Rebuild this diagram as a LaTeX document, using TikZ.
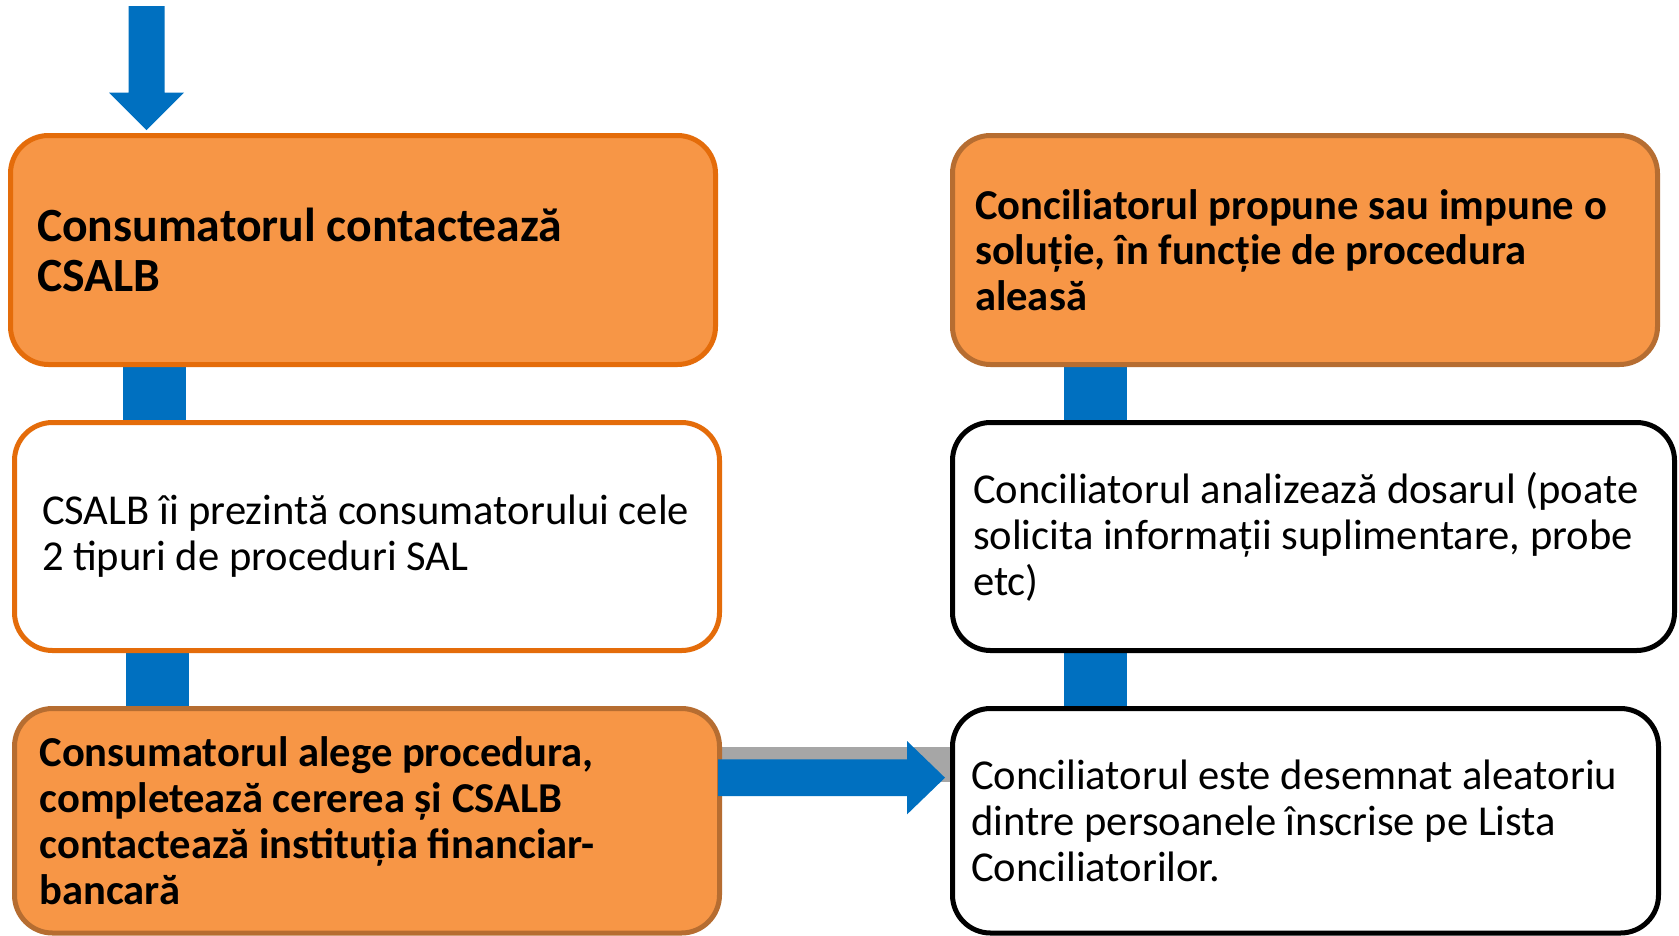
\documentclass[tikz,border=0pt]{standalone}
\usepackage{fontspec}
\setmainfont{Carlito}
\usetikzlibrary{backgrounds,calc}
\definecolor{cblue}{RGB}{0,112,192}
\definecolor{corange}{RGB}{247,150,70}
\definecolor{cborder}{RGB}{228,108,10}
\definecolor{cbrown}{RGB}{182,109,49}
\definecolor{cgray}{RGB}{166,166,166}
\begin{document}
\begin{tikzpicture}[x=1pt,y=-1pt,
  box/.style={rectangle, rounded corners=38pt, line width=5pt, align=flush left, anchor=center, inner ysep=0pt},
  boldtxt/.style={font=\bfseries\fontsize{42.6}{46}\selectfont},
  regtxt/.style={font=\fontsize{42.6}{46}\selectfont},
  conn/.style={line width=63pt, cblue},
  blockfill/.style={fill=cblue}
]
\useasboundingbox (0,0) rectangle (1679,935);

% boxes
\node[box, draw=cborder, fill=corange, font=\bfseries\fontsize{47.7}{50}\selectfont,
      inner xsep=26.5pt, text width=652pt, minimum height=229pt] (L1) at (363,250)
  {Consumatorul contactează\\CSALB};
\node[box, draw=cborder, fill=white, regtxt,
      inner xsep=27.5pt, text width=650pt, minimum height=228pt] (L2) at (367,536.5)
  {CSALB îi prezintă consumatorului cele\\2 tipuri de proceduri SAL};
\node[box, draw=cbrown, fill=corange, boldtxt,
      inner xsep=25pt, text width=655pt, minimum height=224.5pt] (L3) at (367,820.75)
  {Consumatorul alege procedura,\\completează cererea și CSALB\\contactează instituția financiar-\\bancară};
\node[box, draw=cbrown, fill=corange, font=\bfseries\fontsize{42.6}{45.5}\selectfont,
      inner xsep=22.5pt, text width=660pt, minimum height=229pt] (R1) at (1305,250)
  {Conciliatorul propune sau impune o\\soluție, în funcție de procedura\\aleasă};
\node[box, draw=black, fill=white, regtxt,
      inner xsep=20.5pt, text width=681pt, minimum height=228pt] (R2) at (1313.5,536.5)
  {Conciliatorul analizează dosarul (poate\\solicita informații suplimentare, probe\\etc)};
\node[box, draw=black, fill=white, regtxt,
      inner xsep=18.5pt, text width=669pt, minimum height=224.5pt] (R3) at (1305.5,820.75)
  {Conciliatorul este desemnat aleatoriu\\dintre persoanele înscrise pe Lista\\Conciliatorilor.};

% connectors behind the boxes
\coordinate (xl1) at (154.5,0);
\coordinate (xl2) at (157,0);
\coordinate (xr) at (1095,0);
\coordinate (gy) at (0,764.2);
\begin{scope}[on background layer]
  \fill[white] (0,0) rectangle (1679,935);
  \draw[conn] (L1.center -| xl1) -- (L2.center -| xl1);
  \draw[conn] (L2.center -| xl2) -- (L3.center -| xl2);
  \draw[conn] (R1.center -| xr) -- (R2.center -| xr);
  \draw[conn] (R2.center -| xr) -- (R3.center -| xr);
  \draw[line width=35pt, cgray] (L3.east |- gy) -- (R3.west |- gy);
\end{scope}

% incoming arrow at the top
\coordinate (tstart) at (146.5,6);
\coordinate (ttip) at (146.5,130);
\fill[blockfill] ($(tstart)+(-18,0)$) -- ($(tstart)+(18,0)$) -- ($(tstart)+(18,86.7)$)
  -- ($(tstart)+(37.5,86.7)$) -- (ttip) -- ($(tstart)+(-37.5,86.7)$)
  -- ($(tstart)+(-18,86.7)$) -- cycle;

% horizontal arrow from L3 to R3
\coordinate (ay) at (0,777.7);
\coordinate (atip) at (945,777.7);
\fill[blockfill] ($(L3.east |- ay)+(-4,-18.35)$) -- ($(atip)+(-38,-18.35)$)
  -- ($(atip)+(-38,-36.7)$) -- (atip) -- ($(atip)+(-38,36.7)$)
  -- ($(atip)+(-38,18.35)$) -- ($(L3.east |- ay)+(-4,18.35)$) -- cycle;
\end{tikzpicture}
\end{document}
